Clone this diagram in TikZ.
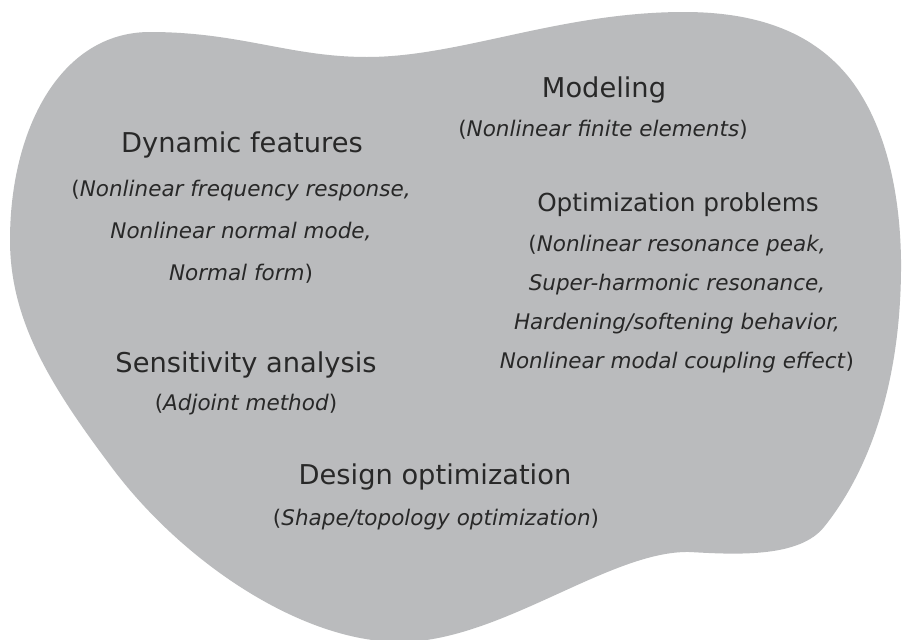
\documentclass[tikz,border=0pt]{standalone}
\usepackage{fontspec}
\setmainfont{DejaVu Sans}
\definecolor{blobgray}{RGB}{186,187,189}
\definecolor{textgray}{RGB}{40,40,40}
\tikzset{
  heading/.style={font=\fontsize{19.4}{23}\selectfont, text=textgray, inner sep=0pt},
  detail/.style={font=\fontsize{15.3}{29.8}\selectfont, text=textgray, inner sep=0pt, align=center},
}
\begin{document}
\begin{tikzpicture}[x=0.025cm,y=-0.025cm]

        \useasboundingbox (0,0) rectangle (902,639);
        \fill[white] (0,0) rectangle (902,639);

        % the grey blob
        \begin{scope}
          \clip (0,0) rectangle (902,639);
          \fill[blobgray] (10,240) .. controls (10,130) and (60,32) .. (150,32)
            .. controls (240,32) and (290,57) .. (367,57)
            .. controls (460,57) and (560,12) .. (684,12)
            .. controls (770,12) and (820,40) .. (851,80)
            .. controls (885,125) and (900,190) .. (901,260)
            .. controls (902,380) and (870,470) .. (824,527)
            .. controls (800,557) and (740,555) .. (690,552)
            .. controls (610,550) and (500,642) .. (400,642)
            .. controls (300,642) and (180,560) .. (110,465)
            .. controls (50,385) and (10,320) .. (10,240) -- cycle;
        \end{scope}

        \begin{scope}[every node/.style={heading}]
          \node (model)  at (604,90)  {Modeling};
          \node (dyn)    at (242,145) {Dynamic features};
          \node[font=\fontsize{17.6}{21}\selectfont] (optim) at (678,205) {Optimization problems};
          \node (sens)   at (246,365) {Sensitivity analysis};
          \node (design) at (435,477) {Design optimization};
        \end{scope}

        \begin{scope}[every node/.style={detail}]
          \node (modeldet)  at (603,130) {(\textit{Nonlinear finite elements})};
          \node (dyndet)    at (241,232) {(\textit{Nonlinear frequency response,}\\
                                          \textit{Nonlinear normal mode,}\\
                                          \textit{Normal form})};
          \node[font=\fontsize{15.3}{27.7}\selectfont] (optimdet) at (677,304)
                                         {(\textit{Nonlinear resonance peak,}\\
                                          \textit{Super-harmonic resonance,}\\
                                          \textit{Hardening/softening behavior,}\\
                                          \textit{Nonlinear modal coupling effect})};
          \node (sensdet)   at (246,405) {(\textit{Adjoint method})};
          \node (designdet) at (436,520) {(\textit{Shape/topology optimization})};
        \end{scope}

      \end{tikzpicture}
\end{document}
